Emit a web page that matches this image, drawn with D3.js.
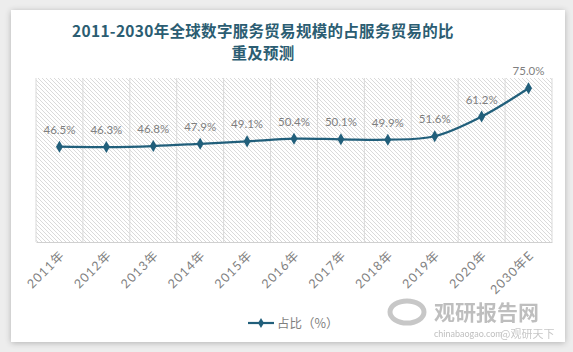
<!DOCTYPE html>
<html><head><meta charset="utf-8">
<script src="https://cdn.jsdelivr.net/npm/d3@7"></script>
<style>
html,body{margin:0;padding:0;background:#ededed;}
svg{display:block;}
</style></head>
<body>
<svg id="chart" width="573" height="352"></svg>
<script>
const categories = ["2011年","2012年","2013年","2014年","2015年","2016年","2017年","2018年","2019年","2020年","2030年E"];
const values = [46.5, 46.3, 46.8, 47.9, 49.1, 50.4, 50.1, 49.9, 51.6, 61.2, 75.0];
const seriesName = "占比（%）";
const titleLines = ["2011-2030年全球数字服务贸易规模的占服务贸易的比", "重及预测"];

const svg = d3.select("#chart");
const W = 573, H = 352;
const font = "Lato, 'Noto Sans CJK SC', sans-serif";

const defs = svg.append("defs");
const sh = defs.append("filter").attr("id","sh").attr("x","-5%").attr("y","-5%").attr("width","110%").attr("height","110%");
sh.append("feGaussianBlur").attr("in","SourceAlpha").attr("stdDeviation",3);
sh.append("feOffset").attr("dx",0).attr("dy",1).attr("result","b");
sh.append("feComponentTransfer").append("feFuncA").attr("type","linear").attr("slope",0.25);
const m = sh.append("feMerge"); m.append("feMergeNode"); m.append("feMergeNode").attr("in","SourceGraphic");

const pat = defs.append("pattern").attr("id","hatch").attr("patternUnits","userSpaceOnUse")
  .attr("width",4).attr("height",4);
pat.append("rect").attr("width",4).attr("height",4).attr("fill","#ffffff");
pat.append("path").attr("d","M-1,-1 L5,5 M-1,3 L1,5 M3,-1 L5,1").attr("stroke","#d6d6d6").attr("stroke-width",0.9);

// card
svg.append("rect").attr("x",11).attr("y",10).attr("width",554).attr("height",332)
  .attr("fill","#fff").attr("filter","url(#sh)");

// title
const t = svg.append("text").attr("text-anchor","middle").attr("fill","#2b5d72")
  .attr("font-family","'Noto Sans CJK SC', sans-serif").attr("font-weight","bold").attr("font-size",15.5)
  .attr("letter-spacing","0.3px");
t.append("tspan").attr("x",263).attr("y",37).text(titleLines[0]);
t.append("tspan").attr("x",263).attr("y",59).text(titleLines[1]);

const plot = {l:36, r:552, t:78, b:242};
const x = d3.scaleBand().domain(categories).range([plot.l, plot.r]);
const y = d3.scaleLinear().domain([0, 80]).range([plot.b, plot.t]);

svg.append("rect").attr("x",plot.l).attr("y",plot.t).attr("width",plot.r-plot.l).attr("height",plot.b-plot.t)
  .attr("fill","url(#hatch)");

// vertical grid at band boundaries
const bounds = categories.map(c => x(c)).concat([plot.r]);
svg.append("g").selectAll("line").data(bounds).join("line")
  .attr("x1",d=>d).attr("x2",d=>d).attr("y1",plot.t).attr("y2",plot.b)
  .attr("stroke","#d9d9d9").attr("stroke-width",1);

// x axis
const xAxis = svg.append("g").attr("transform",`translate(0,${plot.b})`)
  .call(d3.axisBottom(x).tickSize(0).tickPadding(0));
xAxis.select(".domain").attr("stroke","#d0d0d0");
xAxis.selectAll("text").attr("fill","#7f7f7f").attr("font-family",font).attr("font-size",12.5)
  .attr("letter-spacing","1.1px")
  .attr("text-anchor","end").attr("dy",0).attr("dx",0)
  .attr("transform","translate(6,14) rotate(-45)");

const cx = d => x(d) + x.bandwidth()/2;

// line
const line = d3.line().x((d,i)=>cx(categories[i])).y(d=>y(d)).curve(d3.curveCatmullRom.alpha(0.5));
svg.append("path").datum(values).attr("d",line).attr("fill","none")
  .attr("stroke","#215f7b").attr("stroke-width",2.2);

const diamond = d3.symbol().type(d3.symbolDiamond).size(42);
svg.append("g").selectAll("path").data(values).join("path")
  .attr("d",diamond).attr("fill","#215f7b")
  .attr("transform",(d,i)=>`translate(${cx(categories[i])},${y(d)})`);

svg.append("g").selectAll("text").data(values).join("text")
  .attr("x",(d,i)=>cx(categories[i])).attr("y",d=>y(d)-13)
  .attr("text-anchor","middle").attr("fill","#7f7f7f")
  .attr("font-family",font).attr("font-size",11.5)
  .text(d=>d.toFixed(1)+"%");

// legend
const lg = svg.append("g").attr("transform","translate(248,323)");
lg.append("line").attr("x1",0).attr("x2",26).attr("y1",0).attr("y2",0).attr("stroke","#215f7b").attr("stroke-width",2.2);
lg.append("path").attr("d",d3.symbol().type(d3.symbolDiamond).size(30)).attr("fill","#215f7b").attr("transform","translate(13,0)");
lg.append("text").attr("x",29).attr("y",4.5).attr("fill","#7f7f7f")
  .attr("font-family","'Noto Sans CJK SC', sans-serif").attr("font-size",12.5).text(seriesName);

// watermark
const wm = svg.append("g").attr("opacity",0.55);
wm.append("ellipse").attr("cx",407).attr("cy",312).attr("rx",17).attr("ry",11).attr("fill","none")
  .attr("stroke","#9a9a9a").attr("stroke-width",5);
wm.append("text").attr("x",434).attr("y",320).attr("fill","#8a8a8a").attr("font-weight","bold")
  .attr("font-family","'Noto Sans CJK SC', sans-serif").attr("font-size",21).text("观研报告网");
wm.append("text").attr("x",434).attr("y",337).attr("fill","#8a8a8a")
  .attr("font-family",font).attr("font-size",9).text("chinabaogao.com");
wm.append("text").attr("x",500).attr("y",338).attr("fill","#999")
  .attr("font-family","'Noto Sans CJK SC', sans-serif").attr("font-size",11).text("@观研天下");
</script>
</body></html>
